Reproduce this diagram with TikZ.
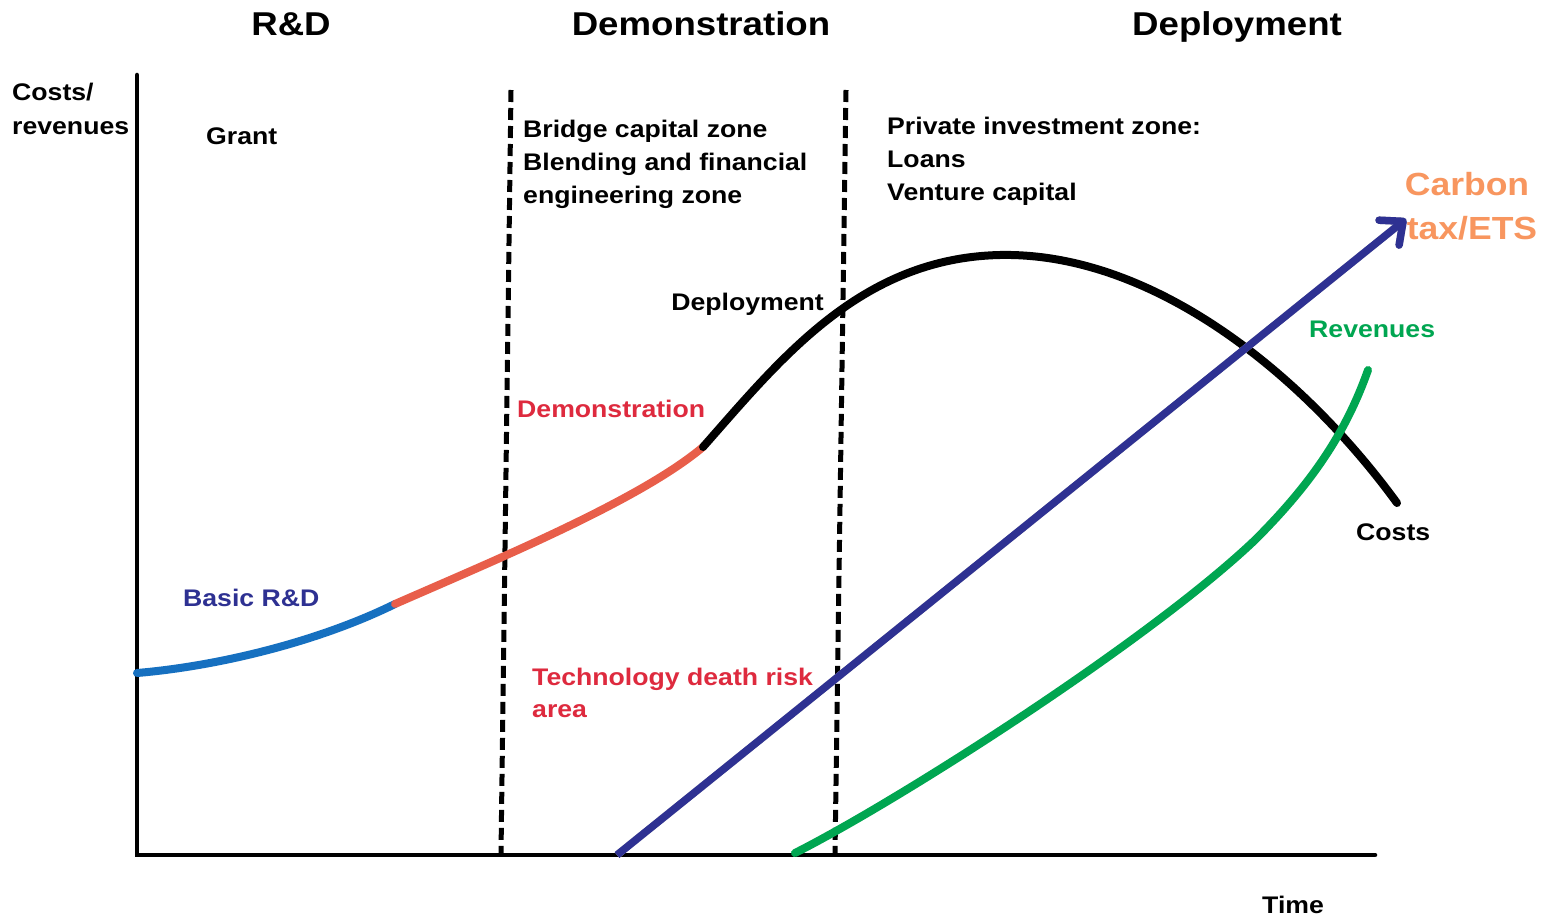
\documentclass[tikz,border=0pt]{standalone}
\usepackage{fontspec}
\setmainfont{Liberation Sans}[FakeStretch=1.11]
\usetikzlibrary{arrows.meta}

\definecolor{rdblue}{RGB}{22,112,192}
\definecolor{demored}{RGB}{232,94,74}
\definecolor{labelred}{RGB}{222,42,62}
\definecolor{navy}{RGB}{46,49,146}
\definecolor{revgreen}{RGB}{0,166,81}
\definecolor{carbonorange}{RGB}{248,150,95}
\definecolor{shadowgray}{RGB}{195,195,195}

\begin{document}
\begin{tikzpicture}[x=1pt,y=-1pt,
  txt/.style={font=\fontsize{24}{33}\selectfont\bfseries, inner sep=0pt, anchor=base west},
  head/.style={font=\fontsize{33}{40}\selectfont\bfseries, inner sep=0pt, anchor=base},
  bigorange/.style={font=\fontsize{32}{44}\selectfont\bfseries, text=carbonorange, inner sep=0pt, anchor=base},
  axisline/.style={line width=4.5pt, line cap=round},
  zoneline/.style={line width=5pt, dash pattern=on 12pt off 6pt},
  curve/.style={line width=8pt, line cap=round},
  taxarrow/.style={line width=7.5pt, -{Straight Barb[length=18pt,width=32pt,round]}}]

\useasboundingbox (0,0) rectangle (1546,917);
\fill[white] (0,0) rectangle (1546,917);

% phase headings
\node[head] (hRD)   at (291,36)  {R\&D};
\node[head] (hDemo) at (701,36)  {Demonstration};
\node[head] (hDepl) at (1237,36) {Deployment};

% axes
\coordinate (origin) at (137,855);
\coordinate (ytop)   at (137,75);
\coordinate (xend)   at (1375,855);
\draw[axisline] (ytop) -- (origin) -- (xend);
\node[txt] (ylab1) at (12,101) {Costs/};
\node[txt] (ylab2) at (12,135) {revenues};
\node[txt] (xlab)  at (1262,913) {Time};

% zone boundaries
\coordinate (z1top) at (511,90);
\coordinate (z1bot) at (501,853);
\coordinate (z2top) at (846,90);
\coordinate (z2bot) at (835,853);
\draw[zoneline] (z1top) -- (z1bot);
\draw[zoneline] (z2top) -- (z2bot);

% zone descriptions
\node[txt] (grant) at (206,145) {Grant};
\node[txt] (bridge1) at (523,138) {Bridge capital zone};
\node[txt] (bridge2) at (523,171) {Blending and financial};
\node[txt] (bridge3) at (523,204) {engineering zone};
\node[txt] (priv1) at (887,135) {Private investment zone:};
\node[txt] (priv2) at (887,168) {Loans};
\node[txt] (priv3) at (887,201) {Venture capital};

% cost curve: basic R&D, demonstration, deployment
\coordinate (c0) at (137,673);
\coordinate (c1) at (395,604);
\coordinate (c2) at (703,447);
\coordinate (cPeak) at (1000,255);
\coordinate (c3) at (1397,503);
\draw[curve, rdblue] (c0) .. controls (220,666) and (320,641) .. (c1);
\draw[curve, demored] (c1) .. controls (500,558) and (640,500) .. (c2);
\draw[curve, black] (c2) .. controls (780,360) and (860,258) .. (cPeak)
                         .. controls (1150,252) and (1300,370) .. (c3);

\node[txt, text=navy] (lBasic) at (183,606) {Basic R\&D};
\node[txt, text=labelred] (lDemo) at (517,417) {Demonstration};
\node[txt, anchor=base east] (lDepl) at (824,310) {Deployment};
\node[txt] (lCosts) at (1356,540) {Costs};

% revenue curve
\coordinate (r0) at (795,853);
\coordinate (r1) at (1255,540);
\coordinate (r2) at (1368,370);
\draw[curve, revgreen] (r0) .. controls (900,800) and (1150,640) .. (r1)
                            .. controls (1310,485) and (1345,435) .. (r2);
\node[txt, text=revgreen] (lRev) at (1309,337) {Revenues};

% risk area
\node[txt, text=labelred] (risk1) at (532,685) {Technology death risk};
\node[txt, text=labelred] (risk2) at (532,717) {area};

% carbon tax / ETS arrow with its soft shadow
\coordinate (aStart) at (617,855);
\coordinate (aTip)   at (1406,219);
\draw[taxarrow, shadowgray, shift={(3.5,3.5)}] (aStart) -- (aTip);
\draw[taxarrow, navy] (aStart) -- (aTip);
\node[bigorange] (carbon1) at (1467,196) {Carbon};
\node[bigorange] (carbon2) at (1472,240) {tax/ETS};

\end{tikzpicture}
\end{document}
